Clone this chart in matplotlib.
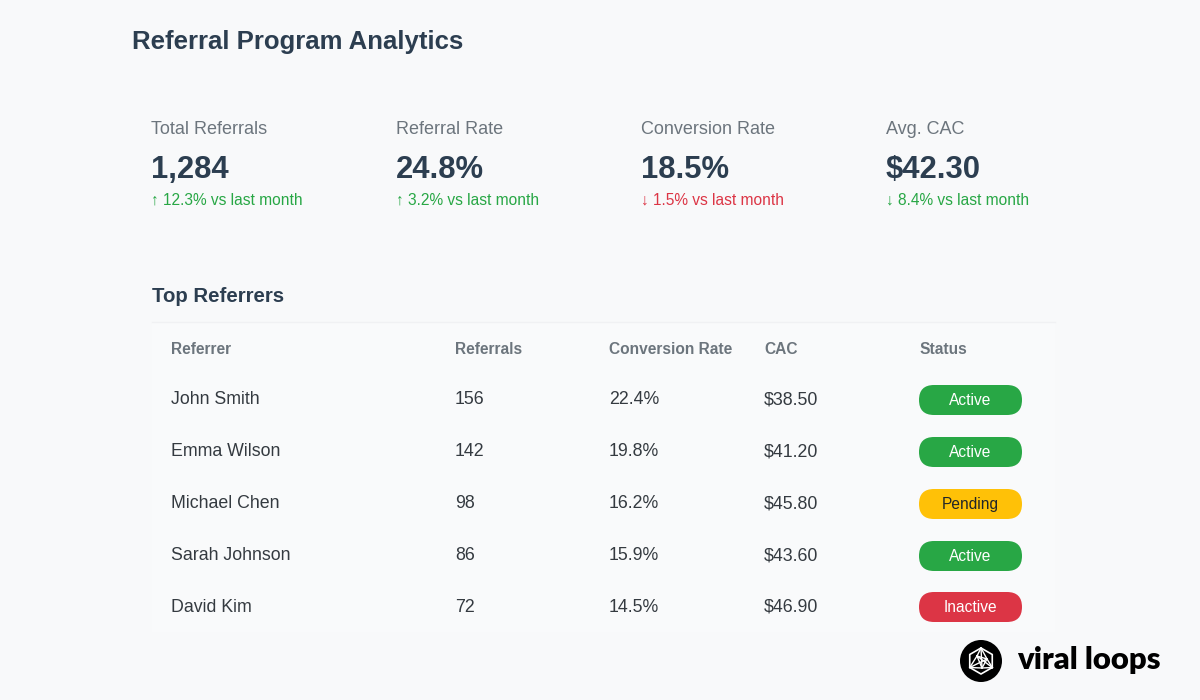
import matplotlib
matplotlib.use("Agg")
import matplotlib.pyplot as plt
from matplotlib.patches import FancyBboxPatch, Circle
import numpy as np

plt.rcParams['font.family'] = ['Liberation Sans', 'DejaVu Sans']

title = "Referral Program Analytics"
kpi_labels = ["Total Referrals", "Referral Rate", "Conversion Rate", "Avg. CAC"]
kpi_values = ["1,284", "24.8%", "18.5%", "$42.30"]
kpi_changes = ["↑ 12.3% vs last month", "↑ 3.2% vs last month",
               "↓ 1.5% vs last month", "↓ 8.4% vs last month"]
kpi_good = [True, True, False, True]

table_title = "Top Referrers"
columns = ["Referrer", "Referrals", "Conversion Rate", "CAC", "Status"]
referrers = ["John Smith", "Emma Wilson", "Michael Chen", "Sarah Johnson", "David Kim"]
referrals = [156, 142, 98, 86, 72]
conv_rates = [22.4, 19.8, 16.2, 15.9, 14.5]
cac = [38.50, 41.20, 45.80, 43.60, 46.90]
status = ["Active", "Active", "Pending", "Active", "Inactive"]

status_colors = {"Active": ("#28a745", "white"),
                 "Pending": ("#ffc107", "#212529"),
                 "Inactive": ("#dc3545", "white")}

BG = "#f8f9fa"
DARK = "#2c3e50"
GRAY = "#6c757d"
GREEN = "#28a745"
RED = "#dc3545"

fig = plt.figure(figsize=(12, 7), dpi=100, facecolor=BG)
ax = fig.add_axes([0, 0, 1, 1])
ax.set_xlim(0, 1200)
ax.set_ylim(700, 0)
ax.axis("off")
ax.set_facecolor(BG)

def pt(px):
    return px * 72 / 100

# Title
ax.text(132, 41.5, title, fontsize=pt(25.7), fontweight="bold", color=DARK,
        va="center", ha="left")

# KPI cards
kpi_x = [151, 396, 641, 886]
for i in range(4):
    x = kpi_x[i]
    ax.text(x, 129.5, kpi_labels[i], fontsize=pt(18), color=GRAY, va="center")
    ax.text(x, 170, kpi_values[i], fontsize=pt(31), fontweight="bold",
            color=DARK, va="center")
    ax.text(x, 200, kpi_changes[i], fontsize=pt(15.5),
            color=GREEN if kpi_good[i] else RED, va="center",
            family=['Liberation Sans', 'DejaVu Sans'])

# Table
ax.text(152, 296, table_title, fontsize=pt(20.4), fontweight="bold",
        color=DARK, va="center")
ax.add_patch(plt.Rectangle((152, 322), 903, 310, facecolor="#f9fafb",
                           edgecolor="none", zorder=0))
ax.plot([152, 1055], [322, 322], color="#f0f1f3", lw=1, zorder=1)

col_x = [171, 455, 609, 764, 919]
for cx, c in zip(col_x, columns):
    ax.text(cx, 349, c, fontsize=pt(15.5), fontweight="bold", color=GRAY,
            va="center")

row_y = [399, 451, 503, 555, 606]
TXT = "#343a40"
for i in range(len(referrers)):
    y = row_y[i]
    ax.text(col_x[0], y + 1, referrers[i], fontsize=pt(17.8), color=TXT, va="center")
    ax.text(col_x[1], y + 1, f"{referrals[i]}", fontsize=pt(17.8), color=TXT, va="center")
    ax.text(col_x[2], y + 1, f"{conv_rates[i]:.1f}%", fontsize=pt(17.8), color=TXT, va="center")
    ax.text(col_x[3], y + 1, f"${cac[i]:.2f}", fontsize=pt(17.8), color=TXT, va="center")
    fc, tc = status_colors[status[i]]
    w, h = 103, 30
    ax.add_patch(FancyBboxPatch((col_x[4] + h / 2, y + 1), w - h, 0,
                                boxstyle=f"round,pad={h/2}",
                                facecolor=fc, edgecolor="none", zorder=2))
    ax.text(col_x[4] + w / 2, y + 1.5, status[i], fontsize=pt(15.5), color=tc,
            ha="center", va="center", zorder=3)

# Logo
cxl, cyl, r = 981, 661, 21
ax.add_patch(Circle((cxl, cyl), r, facecolor="black", edgecolor="none", zorder=2))
ang = np.deg2rad(np.arange(0, 360, 60) + 30)
ox = cxl + 13 * np.cos(ang)
oy = cyl + 13 * np.sin(ang)
ax.plot(np.append(ox, ox[0]), np.append(oy, oy[0]), color="white", lw=1.2, zorder=3)
inner = [(cxl - 4, cyl - 5), (cxl + 6, cyl - 2), (cxl + 1, cyl + 7)]
for (px_, py_) in inner:
    for k in range(6):
        if k % 2 == 0:
            ax.plot([px_, ox[k]], [py_, oy[k]], color="white", lw=1.0, zorder=3)
ix = [p[0] for p in inner] + [inner[0][0]]
iy = [p[1] for p in inner] + [inner[0][1]]
ax.plot(ix, iy, color="white", lw=1.0, zorder=3)
ax.text(1017, 660, "viral loops", fontsize=pt(31), fontweight="heavy",
        color="black", va="center", ha="left", family=["Lato", "DejaVu Sans"])

fig.savefig("out.png", dpi=100, facecolor=BG)
